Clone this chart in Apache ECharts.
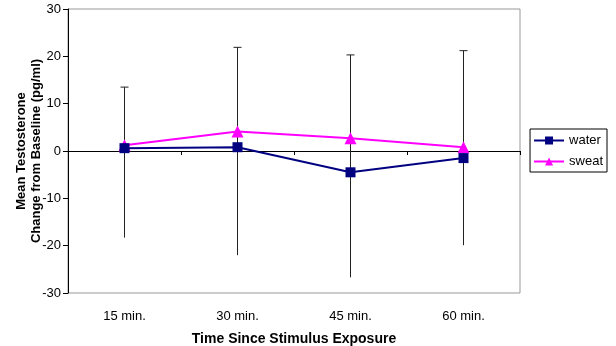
<!DOCTYPE html>
<html>
<head>
<meta charset="utf-8">
<script src="https://cdn.jsdelivr.net/npm/echarts@6/dist/echarts.min.js"></script>
<style>
  html, body { margin: 0; padding: 0; background: #fff; }
  #chart { width: 616px; height: 346px; }
</style>
</head>
<body>
<div id="chart"></div>
<script>
// time points and means
var times = ['15 min.', '30 min.', '45 min.', '60 min.'];
var water = [0.6, 0.8, -4.5, -1.5];
var sweat = [1.2, 4.1, 2.7, 0.8];
// error bar ends (low, high)
var errLow = [-18.3, -22.0, -26.7, -19.9];
var errHigh = [13.5, 21.9, 20.3, 21.2];

var errData = times.map(function (t, i) { return [i, errLow[i], errHigh[i]]; });

var font = 'Liberation Sans, Arial, sans-serif';

var chart = echarts.init(document.getElementById('chart'));
var option = {
    animation: false,
    textStyle: { fontFamily: font },
    grid: {
        left: 68, right: 96, top: 9, bottom: 53,
        outerBoundsMode: 'none',
        show: true, borderColor: '#999', borderWidth: 1
    },
    legend: {
        orient: 'vertical',
        right: 9, top: 129,
        borderColor: '#000', borderWidth: 1,
        padding: [5, 4, 4, 3],
        itemGap: 8,
        itemWidth: 30, itemHeight: 10,
        textStyle: { fontSize: 13, color: '#000', fontFamily: font },
        data: ['water', 'sweat']
    },
    xAxis: [
        {
            type: 'category',
            data: times,
            position: 'bottom',
            axisLine: { show: false, onZero: false },
            axisTick: { show: false },
            axisLabel: { fontSize: 13, color: '#000', margin: 17 },
            name: 'Time Since Stimulus Exposure',
            nameLocation: 'middle',
            nameGap: 39,
            nameMoveOverlap: false,
            nameTextStyle: { fontSize: 14, fontWeight: 'bold', color: '#000' }
        },
        {
            type: 'category',
            data: times,
            position: 'top',
            axisLine: { onZero: true, lineStyle: { color: '#000', width: 1 } },
            axisTick: { show: true, inside: true, length: 4, lineStyle: { color: '#000' } },
            axisLabel: { show: false }
        }
    ],
    yAxis: {
        type: 'value',
        min: -30, max: 30, interval: 10,
        axisLine: { show: true, lineStyle: { color: '#000' } },
        axisTick: { show: true, length: 5, lineStyle: { color: '#000' } },
        splitLine: { show: false },
        axisLabel: { fontSize: 13, color: '#000', margin: 7 },
        name: 'Mean Testosterone\nChange from Baseline (pg/ml)',
        nameLocation: 'middle',
        nameRotate: 90,
        nameGap: 24,
        nameMoveOverlap: false,
        nameTextStyle: { fontSize: 13, fontWeight: 'bold', color: '#000', lineHeight: 15 }
    },
    series: [
        {
            type: 'custom',
            name: 'err',
            z: 1,
            data: errData,
            renderItem: function (params, api) {
                var lo = api.coord([api.value(0), api.value(1)]);
                var hi = api.coord([api.value(0), api.value(2)]);
                var style = { stroke: '#222', lineWidth: 1 };
                return {
                    type: 'group',
                    children: [
                        { type: 'line', shape: { x1: lo[0], y1: lo[1], x2: hi[0], y2: hi[1] }, style: style },
                        { type: 'line', shape: { x1: hi[0] - 4, y1: hi[1], x2: hi[0] + 4, y2: hi[1] }, style: style }
                    ]
                };
            }
        },
        {
            name: 'water',
            type: 'line',
            z: 3,
            data: water,
            symbol: 'rect',
            symbolSize: 10,
            lineStyle: { color: '#000080', width: 2 },
            itemStyle: { color: '#000080' }
        },
        {
            name: 'sweat',
            type: 'line',
            z: 2,
            data: sweat,
            symbol: 'triangle',
            symbolSize: 12,
            lineStyle: { color: '#FF00FF', width: 2 },
            itemStyle: { color: '#FF00FF' }
        }
    ]
};
chart.setOption(option);
</script>
</body>
</html>
